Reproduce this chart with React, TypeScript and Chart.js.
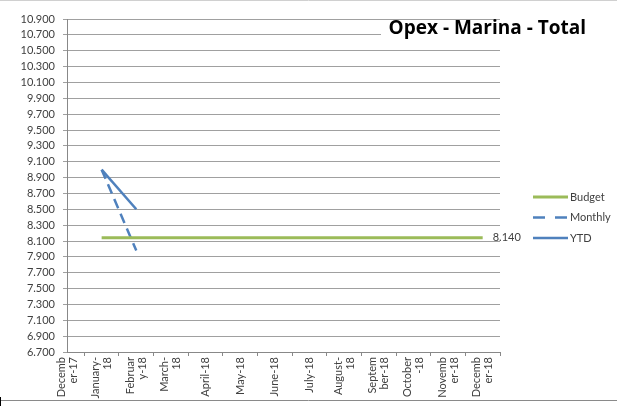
import React, { useEffect, useRef } from "react";
import { Chart, registerables } from "chart.js";

Chart.register(...registerables);

const categories: (string | string[])[] = [
  ["Decemb", "er-17"],
  ["January-", "18"],
  ["Februar", "y-18"],
  ["March-", "18"],
  "April-18",
  "May-18",
  "June-18",
  "July-18",
  ["August-", "18"],
  ["Septem", "ber-18"],
  ["October", "-18"],
  ["Novemb", "er-18"],
  ["Decemb", "er-18"],
];

const budget = [null, 8140, 8140, 8140, 8140, 8140, 8140, 8140, 8140, 8140, 8140, 8140, 8140];
const monthly = [null, 9000, 7980, null, null, null, null, null, null, null, null, null, null];
const ytd = [null, 9000, 8500, null, null, null, null, null, null, null, null, null, null];

const yMin = 6700;
const yMax = 10900;
const yStep = 200;
const title = "Opex - Marina - Total";

const FONT = "Lato, 'Open Sans', sans-serif";
const TEXT = "#404040";

function fmt(v: number): string {
  const s = Math.round(v).toString();
  return s.replace(/\B(?=(\d{3})+(?!\d))/g, ".");
}

const toPoints = (arr: (number | null)[]) => arr.map((y, i) => ({ x: i, y }));

const extrasPlugin = {
  id: "extras",
  afterDatasetsDraw(chart: any) {
    const { ctx, chartArea, scales } = chart;
    ctx.save();

    // x category labels (rotated, centred on their category position)
    ctx.font = `11px ${FONT}`;
    ctx.fillStyle = TEXT;
    const lh = 12;
    categories.forEach((lab, i) => {
      const lines = Array.isArray(lab) ? lab : [lab];
      const px = scales.x.getPixelForValue(i);
      ctx.save();
      ctx.translate(px, chartArea.bottom + 5);
      ctx.rotate(-Math.PI / 2);
      ctx.textAlign = "right";
      ctx.textBaseline = "middle";
      lines.forEach((ln, k) => {
        ctx.fillText(ln, 0, (k - (lines.length - 1) / 2) * lh);
      });
      ctx.restore();
    });

    // data label on last budget point
    const lastIdx = budget.length - 1;
    const bx = scales.x.getPixelForValue(lastIdx);
    const by = scales.y.getPixelForValue(budget[lastIdx] as number);
    ctx.font = `11px ${FONT}`;
    ctx.fillStyle = TEXT;
    ctx.textAlign = "left";
    ctx.textBaseline = "middle";
    ctx.fillText(fmt(budget[lastIdx] as number), bx + 10, by);

    // title box + title
    ctx.fillStyle = "#ffffff";
    ctx.fillRect(381, chartArea.top + 2, chartArea.right - 381 + 2, 29);
    ctx.font = `bold 19px 'Open Sans', sans-serif`;
    ctx.fillStyle = "#000000";
    ctx.textAlign = "right";
    ctx.textBaseline = "alphabetic";
    ctx.fillText(title, 586, 34);

    // legend
    const items = chart.data.datasets;
    const lx = 533;
    const startY = 197;
    const gap = 20.5;
    items.forEach((ds: any, i: number) => {
      const y = startY + i * gap;
      ctx.beginPath();
      ctx.strokeStyle = ds.borderColor;
      ctx.lineWidth = ds.borderWidth;
      ctx.setLineDash(ds.borderDash && ds.borderDash.length ? [12, 10] : []);
      ctx.moveTo(lx, y);
      ctx.lineTo(lx + 35, y);
      ctx.stroke();
      ctx.setLineDash([]);
      ctx.font = `11px ${FONT}`;
      ctx.fillStyle = TEXT;
      ctx.textAlign = "left";
      ctx.textBaseline = "middle";
      ctx.fillText(ds.label, lx + 37, y);
    });

    // frame
    ctx.strokeStyle = "#d0d0d0";
    ctx.lineWidth = 1;
    ctx.beginPath();
    ctx.moveTo(0, 0.5);
    ctx.lineTo(617, 0.5);
    ctx.stroke();
    ctx.strokeStyle = "#8a8a8a";
    ctx.beginPath();
    ctx.moveTo(0, 400.5);
    ctx.lineTo(617, 400.5);
    ctx.stroke();
    ctx.strokeStyle = "#000000";
    ctx.beginPath();
    ctx.moveTo(0.5, 397);
    ctx.lineTo(0.5, 406);
    ctx.stroke();
    ctx.restore();
  },
};

export default function App() {
  const ref = useRef<HTMLCanvasElement | null>(null);

  useEffect(() => {
    document.body.style.margin = "0";
    const canvas = ref.current;
    if (!canvas) return;
    const chart = new Chart(canvas, {
      type: "line",
      data: {
        datasets: [
          {
            label: "Budget",
            data: toPoints(budget),
            borderColor: "#9BBB59",
            backgroundColor: "#9BBB59",
            borderWidth: 3,
            pointRadius: 0,
            borderDash: [],
            tension: 0,
          },
          {
            label: "Monthly",
            data: toPoints(monthly),
            borderColor: "#4F81BD",
            backgroundColor: "#4F81BD",
            borderWidth: 2.5,
            pointRadius: 0,
            borderDash: [10, 6],
            tension: 0,
          },
          {
            label: "YTD",
            data: toPoints(ytd),
            borderColor: "#4F81BD",
            backgroundColor: "#4F81BD",
            borderWidth: 2.5,
            pointRadius: 0,
            borderDash: [],
            tension: 0,
          },
        ],
      } as any,
      options: {
        responsive: false,
        animation: false,
        layout: { padding: { left: 0, right: 119, top: 19, bottom: 0 } },
        plugins: {
          legend: { display: false },
          tooltip: { enabled: false },
          title: { display: false },
        },
        scales: {
          x: {
            type: "linear",
            min: 0,
            max: categories.length - 0.5,
            afterBuildTicks: (scale: any) => {
              scale.ticks = categories.flatMap((_, i) => [{ value: i }, { value: i + 0.5 }]);
            },
            afterFit: (scale: any) => {
              scale.height = 54;
            },
            ticks: {
              autoSkip: false,
              maxRotation: 0,
              padding: 1,
              callback: () => "",
            },
            grid: {
              drawOnChartArea: false,
              drawTicks: true,
              tickLength: 4,
              color: "#888888",
              tickColor: (ctx: any) =>
                ctx.tick && !Number.isInteger(ctx.tick.value) ? "#888888" : "rgba(0,0,0,0)",
            },
            border: { display: true, color: "#888888", width: 1 },
          },
          y: {
            min: yMin,
            max: yMax,
            afterFit: (scale: any) => {
              scale.width = 67;
            },
            ticks: {
              stepSize: yStep,
              autoSkip: false,
              padding: 8,
              color: TEXT,
              font: { family: FONT, size: 11 },
              callback: (v: any) => fmt(Number(v)),
            },
            grid: {
              color: "#a0a0a0",
              lineWidth: 1,
              drawTicks: true,
              tickLength: 4,
            },
            border: { display: true, color: "#888888", width: 1 },
          },
        },
      } as any,
      plugins: [extrasPlugin],
    });
    return () => chart.destroy();
  }, []);

  return (
    <div style={{ width: 619, height: 406, background: "#ffffff" }}>
      <canvas ref={ref} width={619} height={406} style={{ display: "block" }} />
    </div>
  );
}
